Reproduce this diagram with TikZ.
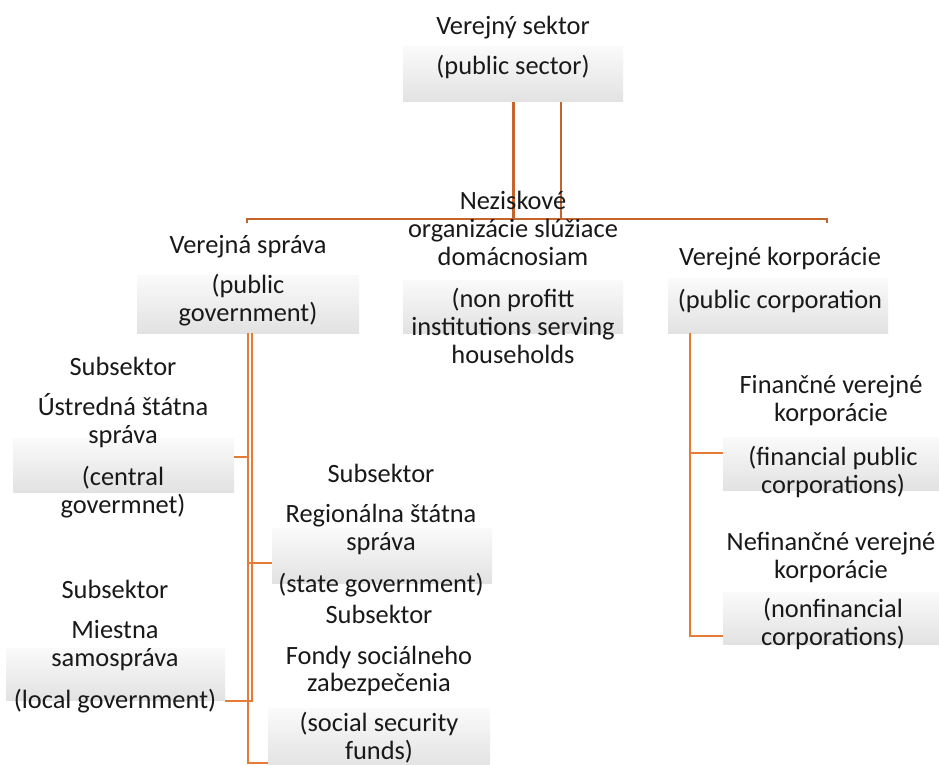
\documentclass[tikz,border=0pt]{standalone}
\usepackage{fontspec}
\setmainfont{Carlito}
\usetikzlibrary{fit}
\definecolor{lineA}{RGB}{196,102,44}
\definecolor{lineB}{RGB}{228,124,56}
\definecolor{boxtop}{RGB}{250,250,250}
\definecolor{boxbot}{RGB}{226,226,226}
\tikzset{
  boxs/.style={inner sep=0pt, top color=boxtop, bottom color=boxbot, draw=none},
  txt/.style={font=\fontsize{26.4}{28}\selectfont, inner sep=0pt, anchor=base, text=black!90},
  connA/.style={draw=lineA, line width=3pt},
  connAthin/.style={draw=lineA, line width=2pt},
  connB/.style={draw=lineB, line width=2.4pt},
}
\newcommand{\tl}[4]{\node[txt] (#1) at (#2,#3) {#4};}
\begin{document}
\begin{tikzpicture}[x=1pt,y=-1pt]
\useasboundingbox (0,0) rectangle (939,765);
\fill[white] (0,0) rectangle (939,765);

% boxes
\node[boxs, fit={(403,47) (623,102)}] (bTop) {};
\node[boxs, fit={(137,275) (359,333)}] (bVS) {};
\node[boxs, fit={(403,280) (623,333)}] (bNP) {};
\node[boxs, fit={(668,278) (888,333)}] (bVK) {};
\node[boxs, fit={(13,438) (234,492)}] (bCen) {};
\node[boxs, fit={(272,528) (492,583)}] (bReg) {};
\node[boxs, fit={(6,648) (225,700)}] (bLoc) {};
\node[boxs, fit={(268,708) (490,768)}] (bSoc) {};
\node[boxs, fit={(723,437) (943,490)}] (bFin) {};
\node[boxs, fit={(723,592) (943,644)}] (bNfin) {};

% connector coordinates
\coordinate (t1) at (513,102);
\coordinate (t2) at (561,102);
\coordinate (h1) at (513,219);
\coordinate (h2) at (561,219);
\coordinate (hL) at (247,219);
\coordinate (hR) at (827,219);
\coordinate (vsL) at (248,333);
\coordinate (vsR) at (252,333);
\coordinate (vkD) at (690,333);

% top connectors
\draw[connA] (t1) -- (h1);
\draw[connAthin] (t2) -- (h2);
\draw[connAthin] (hL |- h1) ++(0,4) -- (hL) -- (hR) -- ++(0,4);

% public government branch
\draw[connB, line width=2pt] (vsL) -- (248,763) -- (bSoc.west |- 0,763);
\draw[connB, line width=2pt] (vsR) -- (252,701) -- (bLoc.east |- 0,701);
\draw[connB, line width=2pt] (bCen.east |- 0,457) -- (248,457);
\draw[connB, line width=2pt] (248,563) -- (bReg.west |- 0,563);

% public corporation branch
\draw[connB] (vkD) -- (690,636) -- (bNfin.west |- 0,636);
\draw[connB] (690,453) -- (bFin.west |- 0,453);

% texts
\tl{tTop1}{513}{35}{Verejný sektor}
\tl{tTop2}{513}{75}{(public sector)}

\tl{tVS1}{248}{253}{Verejná správa}
\tl{tVS2}{248}{293}{(public}
\tl{tVS3}{248}{321}{government)}

\tl{tNP1}{513}{209}{Neziskové}
\tl{tNP2}{513}{237}{organizácie slúžiace}
\tl{tNP3}{513}{265}{domácnosiam}
\tl{tNP4}{513}{307}{(non profitt}
\tl{tNP5}{513}{335}{institutions serving}
\tl{tNP6}{513}{363}{households}

\tl{tVK1}{780}{265}{Verejné korporácie}
\tl{tVK2}{780}{308}{(public corporation}

\tl{tCen1}{123}{375}{Subsektor}
\tl{tCen2}{123}{415}{Ústredná štátna}
\tl{tCen3}{123}{443}{správa}
\tl{tCen4}{123}{485}{(central}
\tl{tCen5}{123}{513}{govermnet)}

\tl{tLoc1}{115}{598}{Subsektor}
\tl{tLoc2}{115}{638}{Miestna}
\tl{tLoc3}{115}{666}{samospráva}
\tl{tLoc4}{115}{708}{(local government)}

\tl{tReg1}{381}{482}{Subsektor}
\tl{tReg2}{381}{522}{Regionálna štátna}
\tl{tReg3}{381}{550}{správa}
\tl{tReg4}{381}{592}{(state government)}

\tl{tSoc1}{379}{623}{Subsektor}
\tl{tSoc2}{379}{664}{Fondy sociálneho}
\tl{tSoc3}{379}{691}{zabezpečenia}
\tl{tSoc4}{379}{731}{(social security}
\tl{tSoc5}{379}{759}{funds)}

\tl{tFin1}{831}{393}{Finančné verejné}
\tl{tFin2}{831}{421}{korporácie}
\tl{tFin3}{833}{465}{(financial public}
\tl{tFin4}{833}{493}{corporations)}

\tl{tNfin1}{831}{550}{Nefinančné verejné}
\tl{tNfin2}{831}{578}{korporácie}
\tl{tNfin3}{833}{617}{(nonfinancial}
\tl{tNfin4}{833}{645}{corporations)}
\end{tikzpicture}
\end{document}
